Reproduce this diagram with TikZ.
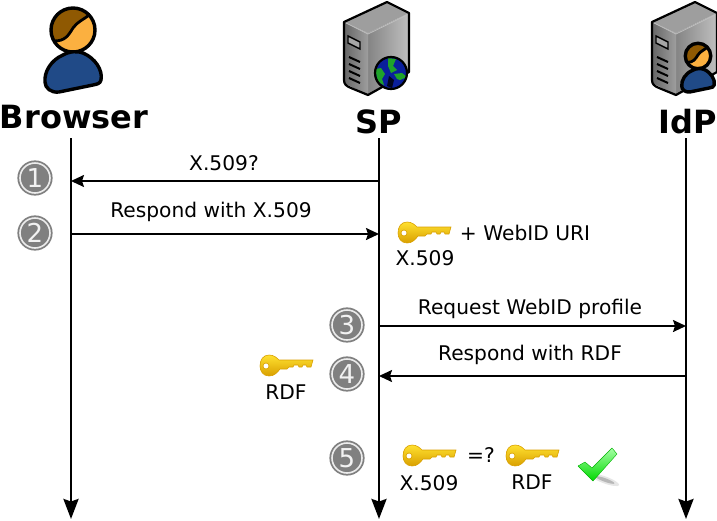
\documentclass[tikz,border=0pt]{standalone}
\usepackage{fontspec}
\setmainfont{DejaVu Sans}
\usetikzlibrary{arrows.meta}
\definecolor{skin}{HTML}{FBB040}
\definecolor{hair}{HTML}{8F5902}
\definecolor{shirt}{HTML}{204A87}
\definecolor{stepgray}{HTML}{808080}
\definecolor{keygold}{HTML}{FFE030}
\definecolor{keydark}{HTML}{D9A000}
\definecolor{earth}{HTML}{0A1F9C}
\definecolor{land}{HTML}{1FA32A}
\tikzset{
  actor/.style={font=\fontsize{32}{36}\selectfont\bfseries},
  msg/.style={font=\fontsize{20.2}{24}\selectfont},
  stepdot/.style={circle,draw=stepgray,line width=1.8pt,double=white!85!gray,double distance=1.6pt,
    fill=stepgray,text=white!90!gray,minimum size=30,inner sep=0pt,font=\fontsize{26}{28}\selectfont},
  lifeline/.style={line width=2.6pt,-{Stealth[length=20pt,width=15pt,inset=2.5pt]}},
  message/.style={line width=1.8pt,-{Stealth[length=13pt,width=12pt,inset=2pt]}},
  person/.pic={
    \fill[skin] (0,0) circle (22);
    \begin{scope}
      \clip (0,0) circle (22);
      \fill[hair] (-24,14) .. controls (-8,12) and (-5,6) .. (0,-2) .. controls (4,-8) and (12,-10) .. (20,-18) -- (10,-30) -- (-30,-30) -- cycle;
    \end{scope}
    \draw[line width=2.8pt] (-19,11) .. controls (-8,11) and (-5,6) .. (0,-2) .. controls (4,-8) and (10,-10) .. (16,-15);
    \draw[line width=3.4pt] (0,0) circle (22);
    \draw[fill=shirt,line width=3.4pt,line join=round] (-10,25) .. controls (-3,21) and (5,21) .. (10,23)
      .. controls (22,28) and (30,40) .. (28,50) .. controls (27,54) and (24,54) .. (20,55)
      -- (-14,62) .. controls (-22,63) and (-28,58) .. (-28,52) .. controls (-29,42) and (-22,30) .. (-10,25) -- cycle;
  },
  tower/.pic={
    \shade[left color=black!48,right color=black!25] (-11,33) -- (30,13) -- (30,72) -- (-11,95) -- cycle;
    \shade[left color=black!60,right color=black!38] (-35,22) -- (-11,33) -- (-11,95) -- (-35,83) -- cycle;
    \fill[black!38] (-35,22) -- (8,2) -- (30,13) -- (-11,33) -- cycle;
    \draw[white!75!black,line width=.8pt] (-33,23) -- (-11,34) -- (28,15);
    \draw[line width=2.2pt,line join=round] (-35,22) -- (8,2) -- (30,13) -- (30,72) -- (-11,95) -- (-28,88)
      .. controls (-33,86) and (-35,84) .. (-35,80) -- cycle;
    \draw[line width=1.4pt,fill=black!35] (-31,36) -- (-19,42) -- (-19,49) -- (-31,43) -- cycle;
    \foreach \y in {57,64,71,78}
      {\draw[line width=2pt] (-30,\y) -- (-19,\y+5);}
  },
  globe/.pic={
    \fill[earth] (0,0) circle (16);
    \begin{scope}
      \clip (0,0) circle (16);
      \fill[land] (-3,-15) -- (5,-14) -- (2,-7) -- (6,-3) -- (0,0) -- (-3,-7) -- cycle;
      \fill[land] (-16,-4) -- (-10,-5) -- (-6,1) -- (-9,6) -- (-7,12) -- (-13,9) -- cycle;
      \fill[land] (3,1) -- (11,0) -- (16,4) -- (9,7) -- (6,6) -- cycle;
      \fill[black!80!earth] (-2,3) -- (3,7) -- (1,15) -- (-4,13) -- cycle;
    \end{scope}
    \draw[line width=2.2pt] (0,0) circle (16);
  },
  goldkey/.pic={
    \shade[top color=keygold,bottom color=keydark,draw=keydark,line width=.6pt,even odd rule]
      (0,-11) .. controls (5,-11) and (8,-8) .. (10,-6) -- (44,-6) -- (42,1) -- (38,1) -- (37,-1) -- (34,-1) -- (33,1)
      -- (30,1) -- (29,-1) -- (25,-1) -- (24,1) -- (20,1) -- (18,3) -- (11,3)
      .. controls (8,7) and (5,10) .. (0,10) .. controls (-6,10) and (-9,5) .. (-9,0) .. controls (-9,-6) and (-6,-11) .. (0,-11) -- cycle
      (-3,0) circle (3);
  },
  greencheck/.pic={
    \fill[shift={(8,13)},rotate=-20,black!50,opacity=.2] (0,0) ellipse (15 and 3.5);
    \fill[shift={(8,13)},rotate=-20,black!70,opacity=.3] (0,0) ellipse (10 and 1.8);
    \shade[top color=green!35!white,bottom color=green!85!black,draw=green!70!black,line width=.4pt,line join=round]
      (-19,-1) -- (-12,-5) -- (-5,1) -- (15,-19) -- (20,-13) -- (-4,14) -- cycle;
  }
}
\begin{document}
\begin{tikzpicture}[x=1pt,y=-1pt]
\useasboundingbox (0,0) rectangle (717,520);
% actors
\pic at (73,30) {person};
\pic at (379,0) {tower};
\pic at (391,73) {globe};
\pic at (687,0) {tower};
\pic[scale=.58] at (698,56) {person};
\node[actor] (browser) at (74,117) {Browser};
\node[actor] (sp) at (379,122) {SP};
\node[actor] (idp) at (688,122) {IdP};
% lifelines
\coordinate (browsertop) at (71,138);
\coordinate (sptop) at (379,138);
\coordinate (idptop) at (686,138);
\coordinate (browserend) at (71,519);
\coordinate (spend) at (379,519);
\coordinate (idpend) at (686,519);
\foreach \who in {browser,sp,idp}
  {\draw[lifeline] (\who top) -- (\who end);}
% messages
\coordinate (bone) at (71,181);
\coordinate (sone) at (379,181);
\coordinate (btwo) at (71,234);
\coordinate (stwo) at (379,234);
\coordinate (sthree) at (379,326);
\coordinate (ithree) at (686,326);
\coordinate (sfour) at (379,376);
\coordinate (ifour) at (686,376);
\draw[message] (sone) -- (bone);
\draw[message] (btwo) -- (stwo);
\draw[message] (sthree) -- (ithree);
\draw[message] (ifour) -- (sfour);
\node[msg] (asks) at (224,163) {X.509?};
\node[msg] (gives) at (211,212) {Respond with X.509};
\node[msg] (fetch) at (530,309) {Request WebID profile};
\node[msg] (reply) at (530,355) {Respond with RDF};
% steps
\foreach \num/\x/\y in {1/35/178,2/35/233,3/347/325,4/347/374,5/347/458}
  {\node[stepdot] (step\num) at (\x,\y) {\num};}
% keys
\foreach \kname/\x/\y in {keya/407/233,keyb/269/366,keyc/412/456,keyd/515/456}
  {\pic (\kname) at (\x,\y) {goldkey};}
\node[msg] (certa) at (425,258) {X.509};
\node[msg] (uri) at (525,233) {+ WebID URI};
\node[msg] (rdfa) at (286,392) {RDF};
\node[msg] (same) at (481,455) {=?};
\node[msg] (certb) at (429,483) {X.509};
\node[msg] (rdfb) at (532,482) {RDF};
\pic at (597,467) {greencheck};
\end{tikzpicture}
\end{document}
